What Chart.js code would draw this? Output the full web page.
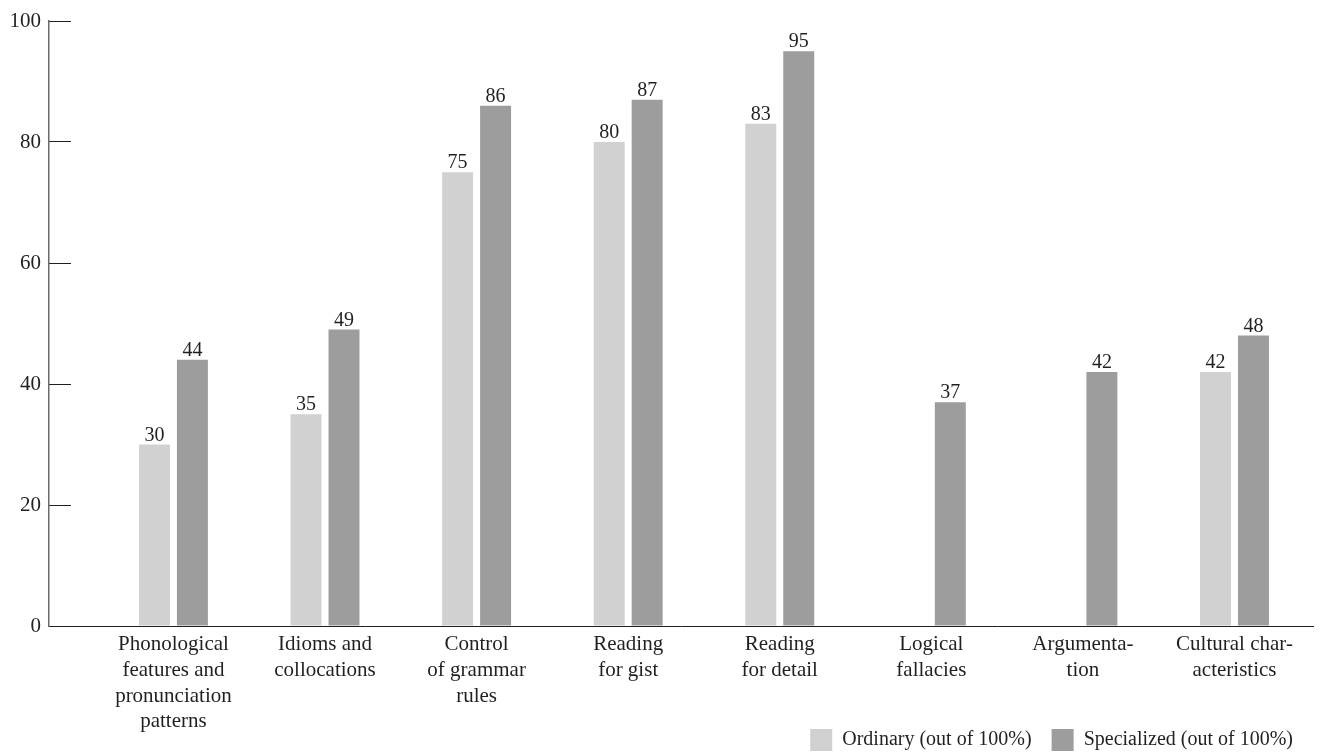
<!DOCTYPE html>
<html>
<head>
<meta charset="utf-8">
<title>Ordinary vs specialized</title>
<script src="https://cdn.jsdelivr.net/npm/chart.js@4/dist/chart.umd.min.js"></script>
<style>
  html, body { margin: 0; padding: 0; background: #ffffff; }
  #wrap { width: 1325px; height: 756px; position: relative; }
</style>
</head>
<body>
<div id="wrap"><canvas id="chart"></canvas></div>
<script>
// Skill areas (each label split into its printed lines)
const categories = [
  ['Phonological', 'features and', 'pronunciation', 'patterns'],
  ['Idioms and', 'collocations'],
  ['Control', 'of grammar', 'rules'],
  ['Reading', 'for gist'],
  ['Reading', 'for detail'],
  ['Logical', 'fallacies'],
  ['Argumenta-', 'tion'],
  ['Cultural char-', 'acteristics']
];

// Scores out of 100%; null = no ordinary score reported
const ordinary    = [30, 35, 75, 80, 83, null, null, 42];
const specialized = [44, 49, 86, 87, 95, 37, 42, 48];

const seriesNames = ['Ordinary (out of 100%)', 'Specialized (out of 100%)'];
const yTickValues = [0, 20, 40, 60, 80, 100];

const FONT = '"Liberation Serif", "Times New Roman", serif';
const INK = '#231f20';

const toPoints = arr => arr.map((v, i) => ({ x: i, y: v }));

// Writes each bar's value just above its top
const valueLabels = {
  id: 'valueLabels',
  afterDatasetsDraw(chart) {
    const ctx = chart.ctx;
    ctx.save();
    ctx.font = '20px ' + FONT;
    ctx.fillStyle = INK;
    ctx.textAlign = 'center';
    ctx.textBaseline = 'alphabetic';
    chart.data.datasets.forEach((ds, di) => {
      const meta = chart.getDatasetMeta(di);
      meta.data.forEach((bar, i) => {
        const v = ds.data[i].y;
        if (v === null || v === undefined) return;
        ctx.fillText(String(v), bar.x, bar.y - 4);
      });
    });
    ctx.restore();
  }
};

// Multi-line category labels hang below the axis box; let them draw down to the canvas edge
const tallLabels = {
  id: 'tallLabels',
  afterLayout(chart) {
    chart.scales.x.bottom = chart.height;
  }
};

new Chart(document.getElementById('chart'), {
  type: 'bar',
  data: {
    datasets: [
      {
        label: seriesNames[0],
        data: toPoints(ordinary),
        backgroundColor: '#d1d1d1',
        borderWidth: 0,
        categoryPercentage: 0.501,
        barPercentage: 0.816
      },
      {
        label: seriesNames[1],
        data: toPoints(specialized),
        backgroundColor: '#9d9d9d',
        borderWidth: 0,
        categoryPercentage: 0.501,
        barPercentage: 0.816
      }
    ]
  },
  options: {
    responsive: true,
    maintainAspectRatio: false,
    animation: false,
    events: [],
    layout: { padding: { top: 21, left: 0, right: 12, bottom: -5 } },
    plugins: {
      tooltip: { enabled: false },
      title: { display: false },
      legend: {
        position: 'bottom',
        align: 'end',
        labels: {
          boxWidth: 22,
          boxHeight: 22,
          padding: 20,
          color: INK,
          font: { family: FONT, size: 20 }
        }
      }
    },
    scales: {
      x: {
        type: 'linear',
        offset: false,
        min: -0.821,
        max: 7.518,
        grid: { display: false, drawTicks: false, offset: false },
        border: { display: true, color: INK, width: 1 },
        afterBuildTicks(scale) {
          scale.ticks = categories.map((c, i) => ({ value: i }));
        },
        afterFit(scale) { scale.height = 83; },
        ticks: {
          autoSkip: false,
          maxRotation: 0,
          minRotation: 0,
          padding: 6,
          color: INK,
          font: { family: FONT, size: 21, lineHeight: 1.22 },
          callback: v => categories[v]
        }
      },
      y: {
        min: 0,
        max: 100,
        afterBuildTicks(scale) {
          scale.ticks = yTickValues.map(v => ({ value: v }));
        },
        afterFit(scale) {
          scale.width = 49;
          scale.paddingTop = 12;
          scale.paddingBottom = 12;
        },
        grid: {
          display: true,
          drawOnChartArea: false,
          drawTicks: true,
          tickLength: -22,
          color: INK,
          lineWidth: 1
        },
        border: { display: true, color: '#6b6b6b', width: 1.5 },
        ticks: {
          padding: 30,
          color: INK,
          font: { family: FONT, size: 21 }
        }
      }
    }
  },
  plugins: [valueLabels, tallLabels]
});
</script>
</body>
</html>
